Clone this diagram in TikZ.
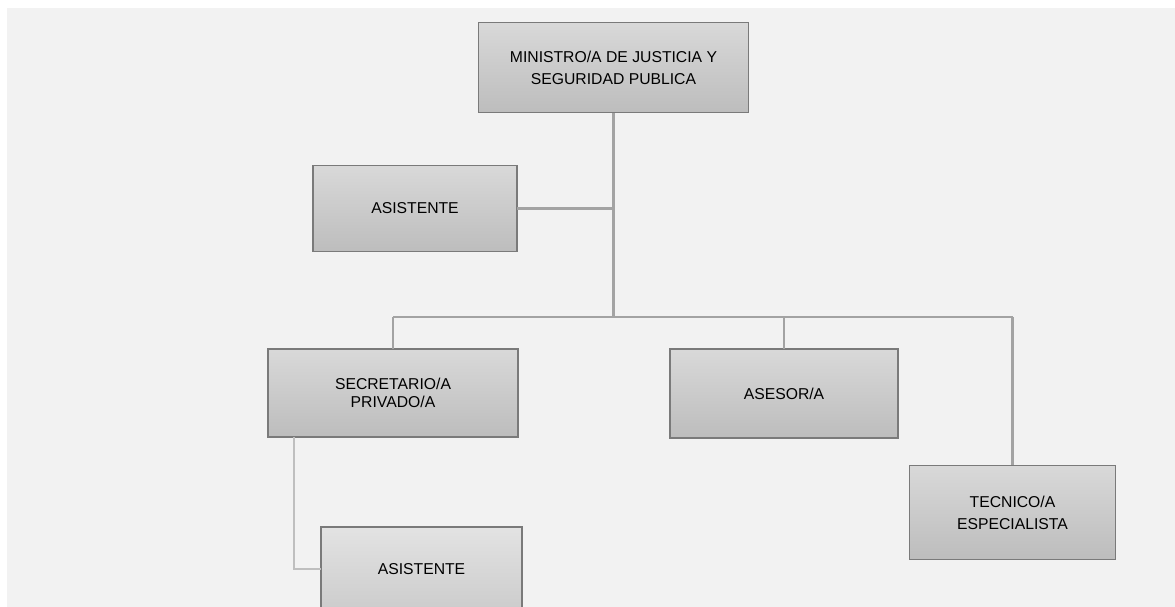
\documentclass[tikz,border=0pt]{standalone}
\usepackage{fontspec}
\setmainfont{Liberation Sans}
\begin{document}
\begin{tikzpicture}[
  x=0.75pt, y=-0.75pt,
  post/.style={draw=black!52, line width=0.9pt, top color=black!15, bottom color=black!26,
    inner sep=0pt, outer sep=0pt, align=center, font=\fontsize{11.8}{16.5}\selectfont},
  link/.style={draw=black!36, line width=1.6pt}
]
  \useasboundingbox (0,0) rectangle (1175,607);
  \clip (0,0) rectangle (1175,607);
  \fill[black!5] (7,8) rectangle (1175,607);

  \node[post,minimum width=203pt,minimum height=68pt] (minister) at (613.5,67.5) {MINISTRO/A DE JUSTICIA Y\\SEGURIDAD PUBLICA};
  \node[post,minimum width=153pt,minimum height=65pt] (assistant) at (415,208.5) {ASISTENTE};
  \node[post,minimum width=187.5pt,minimum height=66pt,font=\fontsize{11.8}{13.5}\selectfont] (secretary) at (393,393) {SECRETARIO/A\\PRIVADO/A};
  \node[post,minimum width=171pt,minimum height=66.75pt] (adviser) at (784,393.5) {ASESOR/A};
  \node[post,minimum width=155pt,minimum height=71pt] (specialist) at (1012.5,512.5) {TECNICO/A\\ESPECIALISTA};
  \node[post,minimum width=150.75pt,minimum height=63pt,top color=black!11,bottom color=black!20] (helper) at (421.5,569) {ASISTENTE};

  \coordinate (hub) at (minister.south |- 0,317);
  \draw[link] (minister.south) -- (hub);
  \draw[link] (assistant.east) -- (assistant.east -| minister.south);
  \draw[link] (secretary.north |- hub) -- (specialist.north |- hub);
  \foreach \n in {secretary,adviser,specialist}
    \draw[link] (\n.north |- hub) -- (\n.north);
  \draw[link,black!25] ([xshift=19.5pt]secretary.south west) |- (helper.west);
\end{tikzpicture}
\end{document}
